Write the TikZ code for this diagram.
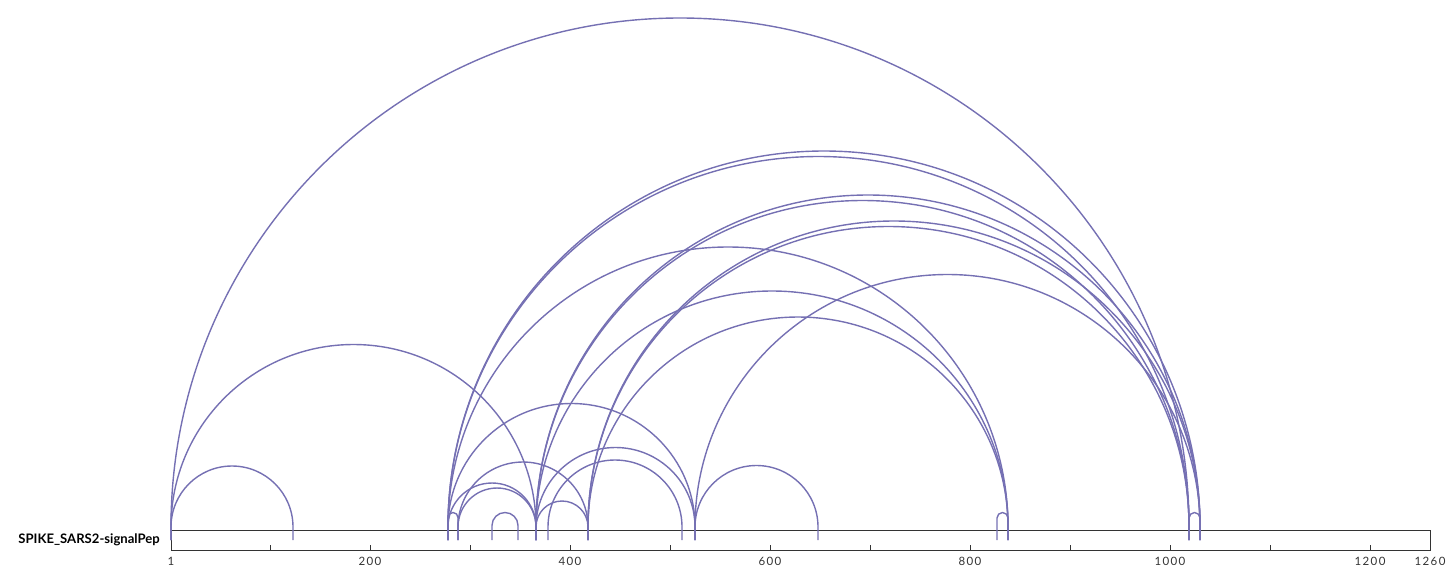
\documentclass[tikz,border=0pt]{standalone}
\usepackage{fontspec}
\setmainfont{Lato}
\newfontfamily\ticksfont[LetterSpace=12]{Lato}
\definecolor{arccol}{HTML}{7570B3}
\definecolor{axiscol}{HTML}{333333}
\newcommand{\bondarc}[2]{%
  \pgfmathsetmacro{\bndxa}{170+#1}%
  \pgfmathsetmacro{\bndxb}{170+#2}%
  \pgfmathsetmacro{\bndhw}{(#2-#1)/2}%
  \pgfmathsetmacro{\bndyc}{min(527,512.5+\bndhw)}%
  \coordinate (res#1) at (\bndxa,540);%
  \coordinate (res#2) at (\bndxb,540);%
  \draw[bond] (res#1) -- (\bndxa,\bndyc) arc[start angle=180,end angle=360,radius=\bndhw] -- (res#2);}
\begin{document}
\begin{tikzpicture}[x=1pt,y=-1pt,
  bond/.style={draw=arccol,line width=1.4pt},
  seqbox/.style={draw=axiscol,line width=1.1pt},
  tickmark/.style={draw=axiscol,line width=0.9pt},
  ticklabel/.style={text=axiscol,font=\ticksfont\fontsize{11.5}{13}\selectfont,inner sep=0pt},
  protlabel/.style={text=black,font=\fontsize{13.1}{15}\selectfont\bfseries,inner sep=0pt,anchor=east}]
\useasboundingbox (0,0) rectangle (1455,582);
% protein bar
\node[seqbox,minimum width=1259pt,minimum height=20pt,inner sep=0pt,anchor=north west] (bar) at (171,530) {};
\node[protlabel] (plabel) at (160,540) {SPIKE\_SARS2-signalPep};
% ticks
\foreach \t in {100,200,...,1200} {
  \draw[tickmark] (170+\t,545) -- (170+\t,550);
}
% tick labels
\foreach \t/\lab in {1/1,200/200,400/400,600/600,800/800,1000/1000,1200/1200,1260/1260} {
  \node[ticklabel] (lab\t) at (170+\t,561) {\lab};
}
% arcs
\foreach \a/\b in {1/1019,1/123,1/366,278/1030,278/1019,366/1030,366/1019,418/1030,418/1019,278/838,525/1030,366/838,418/838,278/525,366/525,378/512,288/418,278/366,288/366,366/418,322/348,525/648,827/838,1019/1030,278/288} {
  \bondarc{\a}{\b}
}
\end{tikzpicture}
\end{document}
